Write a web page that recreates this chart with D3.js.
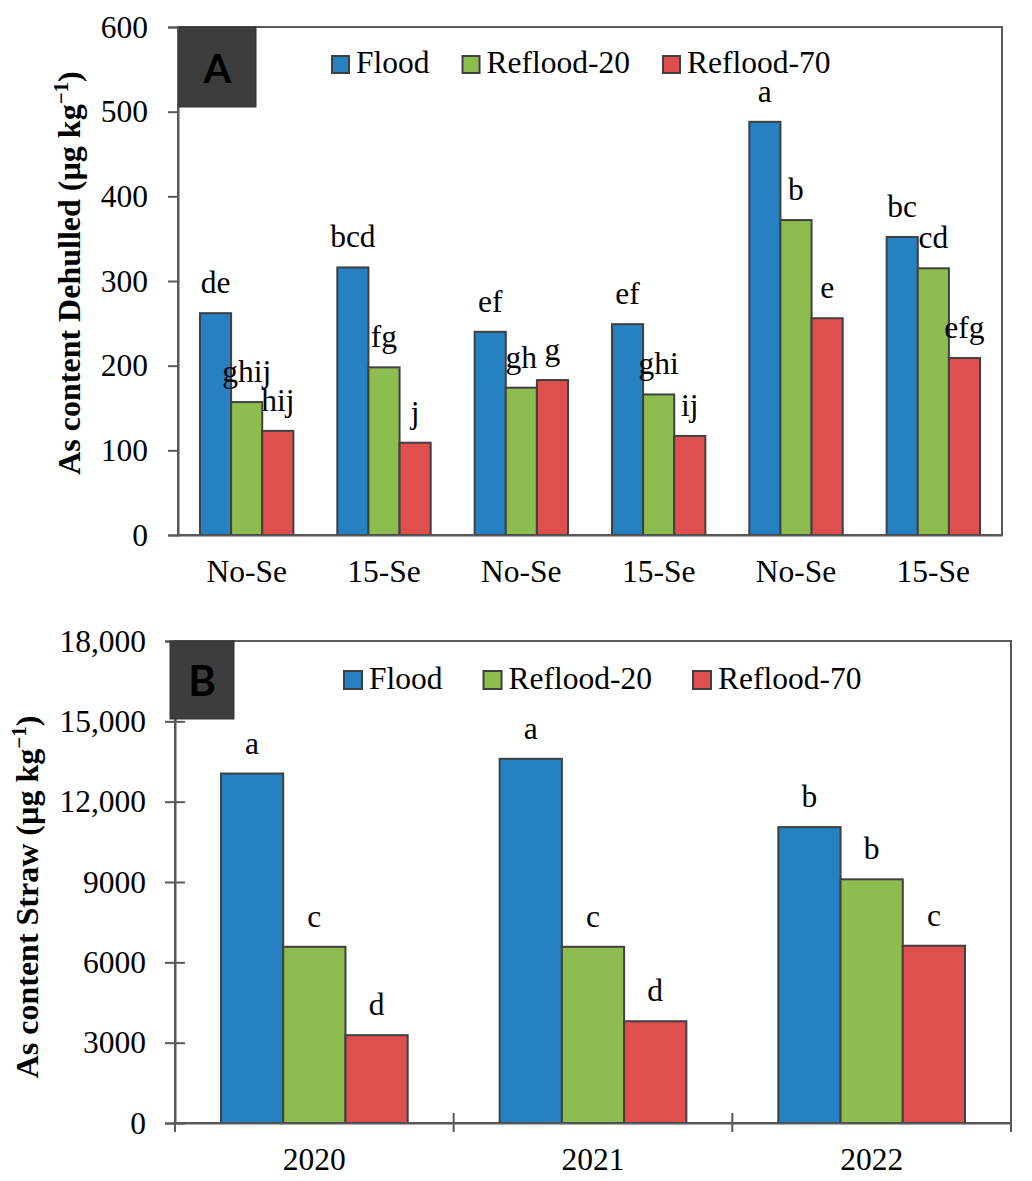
<!DOCTYPE html>
<html>
<head>
<meta charset="utf-8">
<script src="https://cdn.jsdelivr.net/npm/d3@7"></script>
<style>
  body { margin: 0; background: #fff; }
  svg { display: block; }
  text { font-family: "Liberation Serif", "Times New Roman", serif; fill: #000; }
</style>
</head>
<body>
<svg id="chart" width="1032" height="1181"></svg>
<script>
const seriesNames = ["Flood", "Reflood-20", "Reflood-70"];
const seriesColors = ["#2581c1", "#8dbd4f", "#df4f4e"];

// panel A: dehulled grain
const groupsA = ["No-Se", "15-Se", "No-Se", "15-Se", "No-Se", "15-Se"];
const floodA = [262, 316, 240, 249, 488, 352];
const reflood20A = [157, 198, 174, 166, 372, 315];
const reflood70A = [123, 109, 183, 117, 256, 209];
const lettersFloodA = ["de", "bcd", "ef", "ef", "a", "bc"];
const letters20A = ["ghij", "fg", "gh", "ghi", "b", "cd"];
const letters70A = ["hij", "j", "g", "ij", "e", "efg"];
const ticksA = [0, 100, 200, 300, 400, 500, 600];

// panel B: straw
const yearsB = ["2020", "2021", "2022"];
const floodB = [13050, 13600, 11050];
const reflood20B = [6580, 6580, 9100];
const reflood70B = [3280, 3800, 6620];
const lettersFloodB = ["a", "a", "b"];
const letters20B = ["c", "c", "b"];
const letters70B = ["d", "d", "c"];
const ticksB = [0, 3000, 6000, 9000, 12000, 15000, 18000];
const tickLabelsB = ["0", "3000", "6000", "9000", "12,000", "15,000", "18,000"];

const FS = 31.5;
const AXIS = "#595959";
const svg = d3.select("#chart");

function drawPanel(cfg) {
  const g = svg.append("g");
  const { left, right, top, bottom } = cfg.box;

  const x = d3.scaleBand()
    .domain(cfg.groups.map((d, i) => i))
    .range([left, right])
    .paddingInner(cfg.pad)
    .paddingOuter(cfg.pad / 2);

  const xs = d3.scaleBand()
    .domain(seriesNames)
    .range([0, x.bandwidth()]);

  const y = d3.scaleLinear()
    .domain([0, cfg.max])
    .range([bottom, top]);

  // frame
  g.append("rect")
    .attr("x", left).attr("y", top)
    .attr("width", right - left).attr("height", bottom - top)
    .attr("fill", "none").attr("stroke", AXIS).attr("stroke-width", 2);

  // bars + letters
  const rows = cfg.groups.map((name, i) => ({
    i,
    values: seriesNames.map((s, k) => ({
      s, k, v: cfg.values[k][i], letter: cfg.letters[k][i],
    })),
  }));

  const grp = g.selectAll(".grp").data(rows).join("g")
    .attr("transform", d => `translate(${x(d.i)},0)`);

  grp.selectAll("rect").data(d => d.values).join("rect")
    .attr("x", d => xs(d.s))
    .attr("y", d => y(d.v))
    .attr("width", xs.bandwidth())
    .attr("height", d => y(0) - y(d.v))
    .attr("fill", d => seriesColors[d.k])
    .attr("stroke", "#404040")
    .attr("stroke-width", 2);

  grp.selectAll("text").data(d => d.values).join("text")
    .attr("x", d => xs(d.s) + xs.bandwidth() / 2)
    .attr("y", d => y(d.v) - 20)
    .attr("text-anchor", "middle")
    .style("font-size", FS + "px")
    .text(d => d.letter);

  // y axis
  const yAxis = g.append("g")
    .attr("transform", `translate(${left},0)`)
    .call(d3.axisLeft(y).tickValues(cfg.ticks).tickSize(10).tickPadding(cfg.tickPad)
      .tickFormat((d, i) => cfg.tickLabels[i]));
  yAxis.select(".domain").attr("stroke", AXIS).attr("stroke-width", 2);
  yAxis.selectAll(".tick line").attr("stroke", AXIS).attr("stroke-width", 2);
  if (cfg.crossTicks) yAxis.selectAll(".tick line").attr("x1", 10);
  yAxis.selectAll("text")
    .style("font-family", '"Liberation Serif", "Times New Roman", serif')
    .style("font-size", FS + "px").attr("fill", "#000");

  // x axis labels
  const xAxis = g.append("g")
    .attr("transform", `translate(0,${bottom})`)
    .call(d3.axisBottom(x).tickSize(0).tickPadding(25).tickFormat(i => cfg.groups[i]));
  xAxis.select(".domain").attr("stroke", AXIS).attr("stroke-width", 2);
  xAxis.selectAll("text")
    .style("font-family", '"Liberation Serif", "Times New Roman", serif')
    .style("font-size", FS + "px").attr("fill", "#000");

  if (cfg.crossTicks) {
    g.selectAll(".xtick").data(d3.range(cfg.groups.length + 1)).join("line")
      .attr("x1", i => left + i * x.step()).attr("x2", i => left + i * x.step())
      .attr("y1", bottom - 10).attr("y2", bottom + 9)
      .attr("stroke", AXIS).attr("stroke-width", 2);
  }

  // axis title
  const t = g.append("text")
    .attr("transform", `translate(${cfg.titleX},${cfg.titleY}) rotate(-90)`)
    .attr("text-anchor", "middle")
    .style("font-size", "32px")
    .style("font-weight", "bold");
  t.append("tspan").text(cfg.title + " (µg kg");
  t.append("tspan").attr("dy", -12).style("font-size", "21px").text("−1");
  t.append("tspan").attr("dy", 12).text(")");

  // panel tag
  g.append("rect")
    .attr("x", cfg.tag.x).attr("y", top)
    .attr("width", cfg.tag.w).attr("height", cfg.tag.h)
    .attr("fill", "#3d3d3d").attr("stroke", "#333").attr("stroke-width", 1);
  g.append("text")
    .attr("x", cfg.tag.x + cfg.tag.w / 2).attr("y", top + cfg.tag.base)
    .attr("text-anchor", "middle")
    .style("font-family", "Lato, 'Open Sans', sans-serif")
    .style("font-weight", "bold")
    .style("font-size", cfg.tag.fs + "px")
    .attr("fill", "#fff")
    .text(cfg.tag.label);

  // legend
  let lx = cfg.legend.x;
  seriesNames.forEach((s, k) => {
    const sq = cfg.legend.sq;
    g.append("rect")
      .attr("x", lx).attr("y", cfg.legend.y - sq)
      .attr("width", sq).attr("height", sq)
      .attr("fill", seriesColors[k]).attr("stroke", "#404040").attr("stroke-width", 2);
    const lt = g.append("text")
      .attr("x", lx + sq + 7).attr("y", cfg.legend.y)
      .style("font-size", FS + "px")
      .text(s);
    lx += sq + 7 + lt.node().getComputedTextLength() + cfg.legend.gap;
  });
}

drawPanel({
  box: { left: 178, right: 1002, top: 27, bottom: 535 },
  groups: groupsA,
  values: [floodA, reflood20A, reflood70A],
  letters: [lettersFloodA, letters20A, letters70A],
  max: 600,
  pad: 0.32,
  ticks: ticksA,
  tickLabels: ticksA.map(String),
  tickPad: 20,
  crossTicks: false,
  title: "As content Dehulled",
  titleX: 80, titleY: 273,
  tag: { label: "A", x: 179, w: 77, h: 80, base: 56, fs: 40 },
  legend: { x: 332, y: 73, sq: 17, gap: 33 },
});

drawPanel({
  box: { left: 175, right: 1011, top: 641, bottom: 1123 },
  groups: yearsB,
  values: [floodB, reflood20B, reflood70B],
  letters: [lettersFloodB, letters20B, letters70B],
  max: 18000,
  pad: 0.33,
  ticks: ticksB,
  tickLabels: tickLabelsB,
  tickPad: 19,
  crossTicks: true,
  title: "As content Straw",
  titleX: 38, titleY: 897,
  tag: { label: "B", x: 170, w: 64, h: 78, base: 55, fs: 42 },
  legend: { x: 344, y: 689, sq: 18, gap: 41 },
});
</script>
</body>
</html>
